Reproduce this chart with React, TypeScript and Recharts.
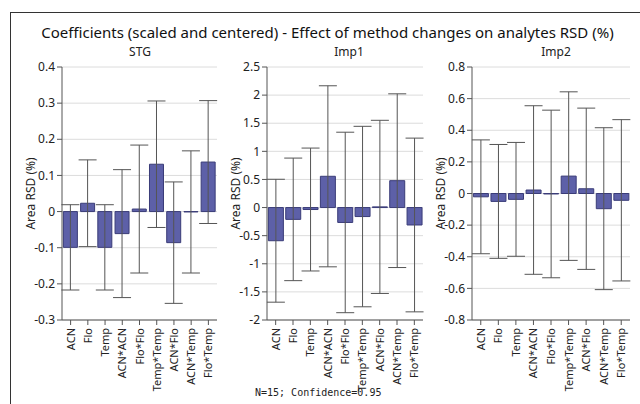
import {
  BarChart,
  Bar,
  XAxis,
  YAxis,
  CartesianGrid,
  ErrorBar,
} from "recharts";

const terms = [
  "ACN",
  "Flo",
  "Temp",
  "ACN*ACN",
  "Flo*Flo",
  "Temp*Temp",
  "ACN*Flo",
  "ACN*Temp",
  "Flo*Temp",
];

// coefficient and half width of the 95% interval
const stgCoef = [-0.099, 0.023, -0.099, -0.061, 0.007, 0.131, -0.086, -0.001, 0.137];
const stgHalf = [0.118, 0.12, 0.118, 0.177, 0.177, 0.175, 0.168, 0.169, 0.17];

const imp1Coef = [-0.59, -0.21, -0.035, 0.556, -0.265, -0.16, 0.012, 0.478, -0.31];
const imp1Half = [1.093, 1.09, 1.093, 1.61, 1.605, 1.605, 1.54, 1.545, 1.545];

const imp2Coef = [-0.021, -0.05, -0.037, 0.022, -0.003, 0.11, 0.03, -0.096, -0.043];
const imp2Half = [0.36, 0.36, 0.36, 0.533, 0.53, 0.533, 0.51, 0.512, 0.51];

const stgTicks = [-0.3, -0.2, -0.1, 0, 0.1, 0.2, 0.3, 0.4];
const imp1Ticks = [-2, -1.5, -1, -0.5, 0, 0.5, 1, 1.5, 2, 2.5];
const imp2Ticks = [-0.8, -0.6, -0.4, -0.2, 0, 0.2, 0.4, 0.6, 0.8];

const FONT = "'Noto Sans', sans-serif";
const TOP = 67;
const BOTTOM = 320;
const H = 404;
const YW = 62;

function withMinor(ticks: number[]) {
  const out: number[] = [];
  ticks.forEach((t, i) => {
    out.push(t);
    if (i < ticks.length - 1) out.push((t + ticks[i + 1]) / 2);
  });
  return out;
}

function XTick({ x, y, payload }: any) {
  return (
    <g transform={`translate(${x},${y})`}>
      <line x1={0} y1={0} x2={0} y2={5} stroke="#555" />
      <text
        transform="rotate(-90)"
        x={-8}
        y={4}
        textAnchor="end"
        fontSize={11}
        fontFamily={FONT}
        fill="#222"
      >
        {payload.value}
      </text>
    </g>
  );
}

function makeYTick(majors: number[]) {
  return ({ x, y, payload }: any) => {
    const major = majors.includes(payload.value);
    return (
      <g>
        <line x1={x - (major ? 5 : 3)} y1={y} x2={x} y2={y} stroke="#555" />
        {major && (
          <text
            x={x - 7}
            y={y}
            dy="0.35em"
            textAnchor="end"
            fontSize={12}
            fontFamily={FONT}
            fill="#222"
          >
            {String(payload.value)}
          </text>
        )}
      </g>
    );
  };
}

function Panel({
  name,
  coef,
  half,
  ticks,
  plotLeft,
  plotWidth,
  nameX,
}: {
  name: string;
  coef: number[];
  half: number[];
  ticks: number[];
  plotLeft: number;
  plotWidth: number;
  nameX: number;
}) {
  const data = terms.map((t, i) => ({ term: t, coef: coef[i], err: half[i] }));
  const domain = [ticks[0], ticks[ticks.length - 1]];
  const width = YW + plotWidth + 3;
  return (
    <>
      <div
        style={{
          position: "absolute",
          left: nameX - 40,
          width: 80,
          top: 43,
          textAlign: "center",
          fontFamily: FONT,
          fontSize: 12,
          color: "#222",
        }}
      >
        {name}
      </div>
      <div style={{ position: "absolute", left: plotLeft - YW, top: 0 }}>
        <BarChart
          width={width}
          height={H}
          data={data}
          margin={{ top: TOP, right: 3, bottom: 0, left: 0 }}
          barCategoryGap="8%"
        >
          <CartesianGrid
            vertical={false}
            stroke="#dcdcdc"
            horizontalValues={ticks}
          />
          <XAxis
            dataKey="term"
            height={H - BOTTOM}
            interval={0}
            tickSize={0}
            tickMargin={0}
            tickLine={false}
            tick={<XTick />}
            axisLine={{ stroke: "#555" }}
          />
          <XAxis
            xAxisId="top"
            dataKey="term"
            orientation="top"
            height={0}
            tick={false}
            tickLine={false}
            axisLine={{ stroke: "#999" }}
          />
          <YAxis
            type="number"
            domain={domain}
            ticks={withMinor(ticks)}
            width={YW}
            tickSize={0}
            tickMargin={0}
            tickLine={false}
            tick={makeYTick(ticks)}
            axisLine={{ stroke: "#555" }}
            label={{
              value: "Area RSD (%)",
              angle: -90,
              position: "center",
              fontSize: 12,
              fontFamily: FONT,
              fill: "#222",
            }}
          />
          <YAxis
            yAxisId="r"
            orientation="right"
            type="number"
            domain={domain}
            width={0}
            tick={false}
            tickLine={false}
            axisLine={{ stroke: "#999" }}
          />
          <Bar
            dataKey="coef"
            fill="#5d60a8"
            stroke="#3a3c78"
            strokeWidth={1}
            isAnimationActive={false}
          >
            <ErrorBar
              dataKey="err"
              direction="y"
              width={9}
              stroke="#555"
              strokeWidth={1}
              isAnimationActive={false}
            />
          </Bar>
        </BarChart>
      </div>
    </>
  );
}

export default function App() {
  return (
    <div
      style={{
        position: "absolute",
        left: 0,
        top: 0,
        width: 640,
        height: 404,
        background: "#fff",
        overflow: "hidden",
      }}
    >
      <div
        style={{
          position: "absolute",
          left: 10,
          top: 12,
          width: 700,
          height: 500,
          borderLeft: "1.5px solid #333",
          borderTop: "1.5px solid #333",
        }}
      />
      <div
        style={{
          position: "absolute",
          left: 0,
          width: 655,
          top: 22,
          textAlign: "center",
          fontFamily: FONT,
          fontSize: 15,
          color: "#111",
          whiteSpace: "nowrap",
        }}
      >
        Coefficients (scaled and centered) - Effect of method changes on analytes RSD (%)
      </div>
      <Panel name="STG" coef={stgCoef} half={stgHalf} ticks={stgTicks} plotLeft={62} plotWidth={155} nameX={140} />
      <Panel name="Imp1" coef={imp1Coef} half={imp1Half} ticks={imp1Ticks} plotLeft={267} plotWidth={156} nameX={349} />
      <Panel name="Imp2" coef={imp2Coef} half={imp2Half} ticks={imp2Ticks} plotLeft={472} plotWidth={158} nameX={556} />
      <div
        style={{
          position: "absolute",
          left: 255,
          top: 387,
          fontFamily: "'DejaVu Sans Mono', monospace",
          fontSize: 10,
          color: "#222",
          whiteSpace: "pre",
        }}
      >
        N=15; Confidence=0.95
      </div>
    </div>
  );
}
